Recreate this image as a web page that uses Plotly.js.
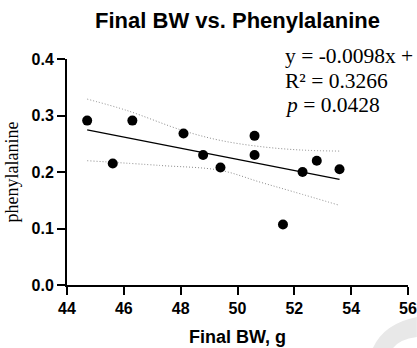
<!DOCTYPE html>
<html>
<head>
<meta charset="utf-8">
<script src="https://cdn.plot.ly/plotly-3.0.1.min.js"></script>
<style>html,body{margin:0;padding:0;background:#fff;}#chart{width:417px;height:348px;}</style>
</head>
<body>
<div id="chart"></div>
<script>
// Data
const finalBW = [44.71, 45.61, 46.30, 48.10, 48.79, 49.40, 50.60, 50.60, 51.60, 52.29, 52.79, 53.59];
const phenylalanine = [0.291, 0.215, 0.291, 0.268, 0.230, 0.208, 0.264, 0.230, 0.107, 0.200, 0.220, 0.205];
const fitX = [44.71, 53.59];
const fitY = [0.2746, 0.187];
const upperX = [44.71, 46.10, 48.10, 49.39, 50.80, 52.20, 53.59];
const upperY = [0.329, 0.309, 0.273, 0.256, 0.245, 0.239, 0.237];
const lowerX = [44.71, 47.27, 49.39, 50.80, 51.97, 53.59];
const lowerY = [0.220, 0.2116, 0.203, 0.182, 0.165, 0.141];
const xTicks = [44, 46, 48, 50, 52, 54, 56];
const yTicks = [0.0, 0.1, 0.2, 0.3, 0.4];
const statLines = ["y = -0.0098x +", "R² = 0.3266", "<i>p</i> = 0.0428"];

const sans = "Liberation Sans, Arial, sans-serif";
const serif = "Liberation Serif, Times New Roman, serif";

const traces = [
  {x: upperX, y: upperY, mode: "lines", line: {color: "#8a8a8a", width: 1, dash: "1px,2px", shape: "spline"}, hoverinfo: "skip"},
  {x: lowerX, y: lowerY, mode: "lines", line: {color: "#8a8a8a", width: 1, dash: "1px,2px", shape: "spline"}, hoverinfo: "skip"},
  {x: fitX, y: fitY, mode: "lines", line: {color: "#000", width: 1.3}},
  {x: finalBW, y: phenylalanine, mode: "markers", marker: {color: "#000", size: 10}, cliponaxis: false}
];

const axisCommon = {
  showline: true, linewidth: 2, linecolor: "#000",
  ticks: "outside", ticklen: 8, tickwidth: 2, tickcolor: "#000",
  showgrid: false, zeroline: false, fixedrange: true,
  tickfont: {family: sans, size: 16, color: "#000", weight: "bold"}
};

const statY = [1.013, 0.903, 0.796];
const annotations = statLines.map((t, i) => ({
  text: t, xref: "paper", yref: "paper", x: 0.633, y: statY[i],
  xanchor: "left", yanchor: "middle", showarrow: false,
  font: {family: serif, size: 21.5, color: "#000"}
}));

const layout = {
  width: 417, height: 348,
  margin: {l: 67, r: 9, t: 59, b: 63},
  paper_bgcolor: "#fff", plot_bgcolor: "#fff",
  showlegend: false,
  title: {text: "Final BW vs. Phenylalanine", font: {family: sans, size: 22, color: "#000", weight: "bold"},
          x: 0.5, xref: "paper", y: 1 - 20/348, yref: "container", yanchor: "middle"},
  xaxis: Object.assign({}, axisCommon, {
    range: [44, 56], tickvals: xTicks,
    title: {text: "Final BW, g", font: {family: sans, size: 18, color: "#000", weight: "bold"}, standoff: 14}
  }),
  yaxis: Object.assign({}, axisCommon, {
    range: [0, 0.4], tickvals: yTicks, tickformat: ".1f",
    title: {text: "phenylalanine", font: {family: serif, size: 18, color: "#000"}, standoff: 8}
  }),
  annotations: annotations,
  shapes: [{
    type: "path", xref: "paper", yref: "paper", layer: "below",
    path: "M 0.897 -0.279 Q 0.93 -0.17 1.026 -0.1416 L 1.026 -0.230 Q 0.975 -0.24 0.956 -0.279 Z",
    fillcolor: "#e8e8e8", line: {width: 0}
  }]
};

Plotly.newPlot("chart", traces, layout, {displayModeBar: false, staticPlot: true});
</script>
</body>
</html>
